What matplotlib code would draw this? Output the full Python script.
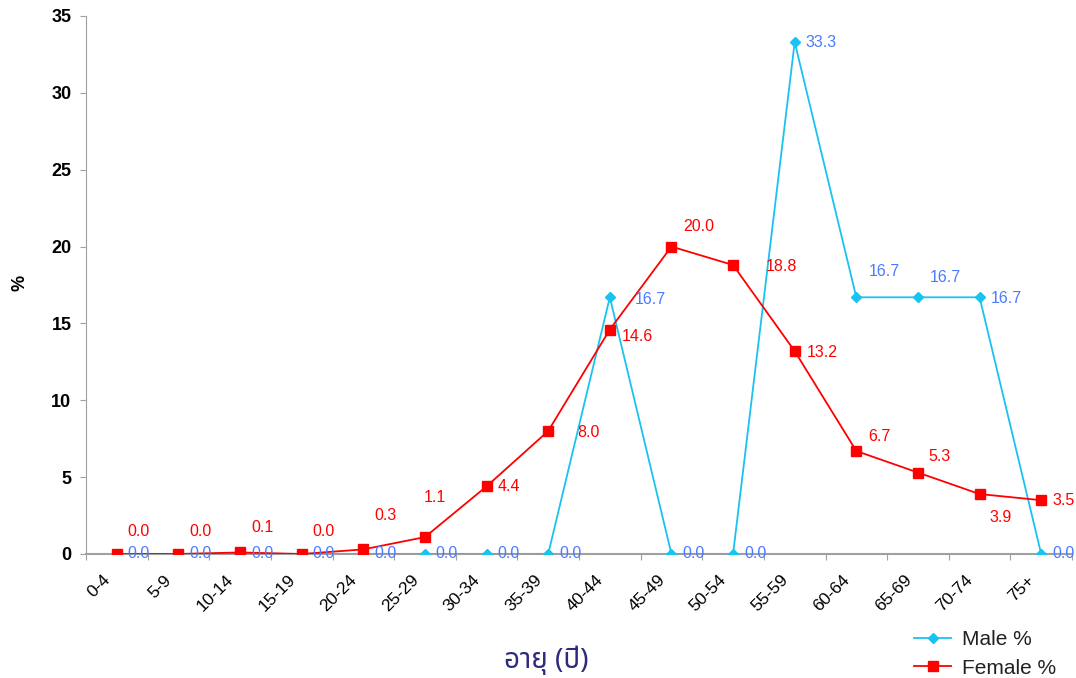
import matplotlib
matplotlib.use("Agg")
import matplotlib.pyplot as plt
import matplotlib.transforms as mtransforms
from matplotlib.font_manager import fontManager

categories = ["0-4", "5-9", "10-14", "15-19", "20-24", "25-29", "30-34", "35-39",
              "40-44", "45-49", "50-54", "55-59", "60-64", "65-69", "70-74", "75+"]
male = [0.0, 0.0, 0.0, 0.0, 0.0, 0.0, 0.0, 0.0, 16.7, 0.0, 0.0, 33.3, 16.7, 16.7, 16.7, 0.0]
female = [0.0, 0.0, 0.1, 0.0, 0.3, 1.1, 4.4, 8.0, 14.6, 20.0, 18.8, 13.2, 6.7, 5.3, 3.9, 3.5]
yticks = [0, 5, 10, 15, 20, 25, 30, 35]

# label offsets (pixels, relative to the point centre)
female_off = [(22, 23), (22, 23), (22, 25), (22, 22), (22, 34), (10, 40), (22, 0), (40, -1),
              (28, -7), (27, 20), (48, -1), (28, -1), (23, 15), (22, 16), (21, -23), (22, 0)]
male_off = [(22, 0)] * 8 + [(40, -2), (22, 0), (22, 0), (26, 0), (28, 26), (27, 20), (27, -1), (22, 0)]

names = {f.name for f in fontManager.ttflist}
thai = [n for n in ["Noto Sans Thai", "Noto Sans Thai UI", "Loma", "Garuda", "Norasi",
                    "Tlwg Typo", "Kinnari"] if n in names]
plt.rcParams['font.family'] = ['Liberation Sans', 'DejaVu Sans']

fig = plt.figure(figsize=(10.76, 6.78), dpi=100)
ax = fig.add_axes([86 / 1076, 1 - 554 / 678, 986 / 1076, 538 / 678])

x = list(range(len(categories)))
male_c = "#19C3F0"
fem_c = "#FF0000"
ax.plot(x, male, color=male_c, lw=1.3, marker="D", ms=5.5, label="Male %", zorder=3)
ax.plot(x, female, color=fem_c, lw=1.3, marker="s", ms=6.5, label="Female %", zorder=4)

for i, v in enumerate(female):
    dx, dy = female_off[i]
    ax.annotate(f"{v:.1f}", (i, v), xytext=(dx, dy), textcoords="offset pixels",
                ha="center", va="center", color=fem_c, fontsize=11.5)
for i, v in enumerate(male):
    dx, dy = male_off[i]
    ax.annotate(f"{v:.1f}", (i, v), xytext=(dx, dy), textcoords="offset pixels",
                ha="center", va="center", color="#4A7BFF", fontsize=11.5, zorder=5)

ax.set_xlim(-0.5, len(categories) - 0.5)
ax.set_ylim(0, 35)
ax.set_yticks(yticks)
ax.set_yticklabels([str(t) for t in yticks], fontweight="bold", fontsize=13)
ax.set_xticks([i - 0.5 for i in range(len(categories) + 1)], minor=False)
ax.set_xticklabels([""] * (len(categories) + 1))
ax.set_xticks(x, minor=True)
ax.set_xticklabels(categories, minor=True, rotation=45, ha="right", va="center",
                   rotation_mode="anchor", fontsize=12.5)
ax.tick_params(axis="x", which="minor", length=0, pad=17)
ax.tick_params(axis="x", which="major", length=4, color="#A0A0A0", direction="out")
ax.tick_params(axis="y", length=4.5, color="#A0A0A0", direction="out", pad=6)
shift = mtransforms.ScaledTranslation(-9 / 100, 0, fig.dpi_scale_trans)
for lbl in ax.get_xticklabels(minor=True):
    lbl.set_transform(lbl.get_transform() + shift)
for s in ["top", "right"]:
    ax.spines[s].set_visible(False)
ax.spines["left"].set_color("#A0A0A0")
ax.spines["bottom"].set_color("#A0A0A0")
ax.spines["bottom"].set_linewidth(1.5)

fig.text(20 / 1076, 1 - 283 / 678, "%", rotation=90, ha="center", va="center",
         fontweight="bold", fontsize=13)

xl_fam = thai + ['Liberation Sans', 'DejaVu Sans']
fig.text(546 / 1076, 1 - 660 / 678, "อายุ (ปี)", ha="center", va="center",
         fontsize=20, fontweight="bold", color="#2B2A7E", family=xl_fam)

leg = fig.legend(loc="center left", bbox_to_anchor=(895 / 1076, 1 - 654 / 678), frameon=False,
                 fontsize=15, handlelength=1.8, labelspacing=0.45, handletextpad=0.53)
for t in leg.get_texts():
    t.set_color("#222222")

fig.savefig("out.png", dpi=100)
